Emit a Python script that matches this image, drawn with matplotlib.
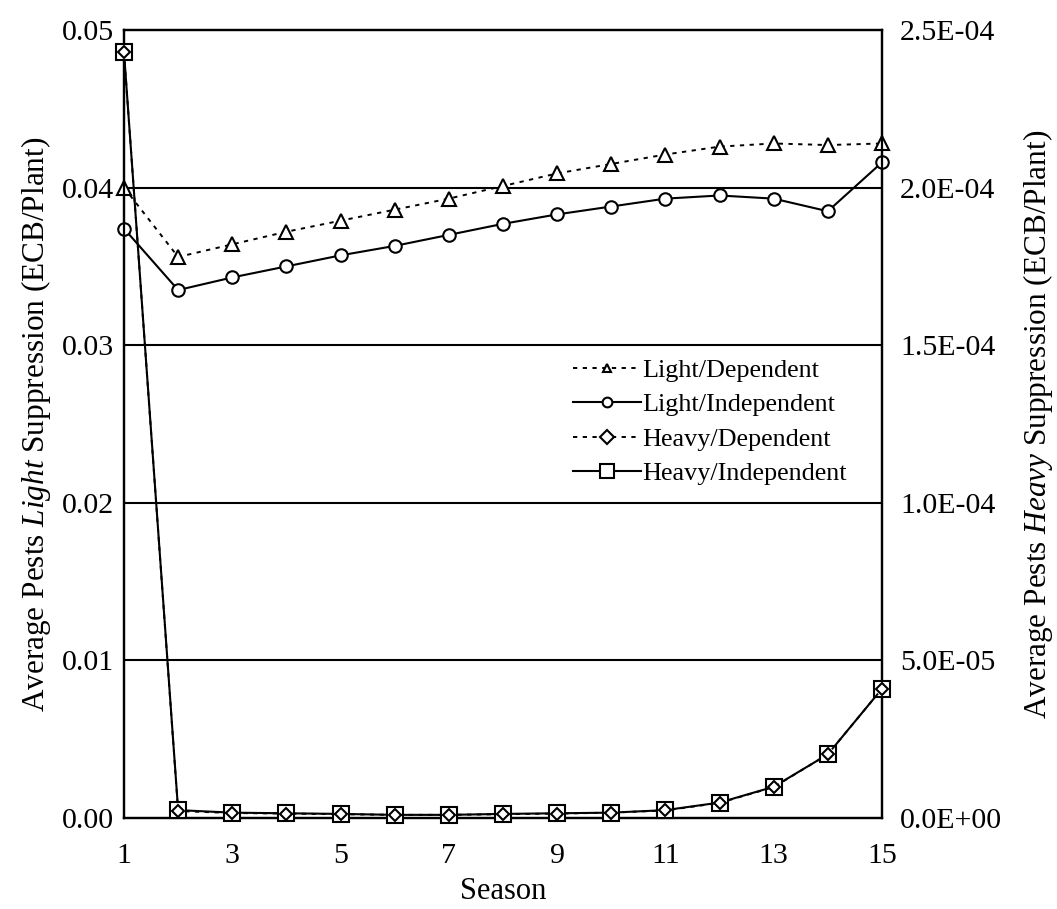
import numpy as np
import matplotlib.pyplot as plt
from matplotlib.ticker import FuncFormatter

plt.rcParams['font.family'] = ['Liberation Serif', 'DejaVu Serif']
plt.rcParams['mathtext.fontset'] = 'custom'
plt.rcParams['mathtext.rm'] = 'Liberation Serif'
plt.rcParams['mathtext.it'] = 'Liberation Serif:italic'

# Data
season = np.arange(1, 16)
light_dep = [0.0400, 0.0356, 0.0364, 0.0372, 0.0379, 0.0386, 0.0393, 0.0401,
             0.0409, 0.0415, 0.0421, 0.0426, 0.0428, 0.0427, 0.0428]
light_ind = [0.0374, 0.0335, 0.0343, 0.0350, 0.0357, 0.0363, 0.0370, 0.0377,
             0.0383, 0.0388, 0.0393, 0.0395, 0.0393, 0.0385, 0.0416]
heavy_dep = [2.43e-4, 2.2e-6, 1.6e-6, 1.4e-6, 1.2e-6, 1.0e-6, 1.0e-6, 1.2e-6,
             1.4e-6, 1.7e-6, 2.4e-6, 4.8e-6, 9.8e-6, 2.02e-5, 4.1e-5]
heavy_ind = [2.43e-4, 2.5e-6, 1.7e-6, 1.5e-6, 1.3e-6, 1.0e-6, 1.0e-6, 1.3e-6,
             1.5e-6, 1.7e-6, 2.5e-6, 4.9e-6, 9.9e-6, 2.02e-5, 4.1e-5]

dotted = (0, (2.2, 2.8))

fig = plt.figure(figsize=(10.57, 9.09), dpi=100)
ax = fig.add_axes([0.1173, 0.1001, 0.7171, 0.8669])
ax2 = ax.twinx()

l1, = ax.plot(season, light_dep, color='black', lw=1.4, ls=dotted, marker='^',
              ms=10, mfc='white', mec='black', mew=1.5, label='Light/Dependent',
              clip_on=False, zorder=3)
l2, = ax.plot(season, light_ind, color='black', lw=1.5, ls='-', marker='o',
              ms=9, mfc='white', mec='black', mew=1.5, label='Light/Independent',
              clip_on=False, zorder=3)
l4, = ax2.plot(season, heavy_ind, color='black', lw=1.5, ls='-', marker='s',
               ms=11, mfc='white', mec='black', mew=1.5, label='Heavy/Independent',
               clip_on=False, zorder=3)
l3, = ax2.plot(season, heavy_dep, color='black', lw=1.4, ls=dotted, marker='D',
               ms=6.5, mfc='white', mec='black', mew=1.5, label='Heavy/Dependent',
               clip_on=False, zorder=3)

ax.set_xlim(1, 15)
ax.set_ylim(0, 0.05)
ax2.set_ylim(0, 2.5e-4)
ax.set_xticks(np.arange(1, 16, 2))
ax.set_yticks(np.arange(0, 0.051, 0.01))
ax.yaxis.set_major_formatter(FuncFormatter(lambda v, p: f'{v:.2f}'))
ax2.set_yticks(np.arange(0, 2.51e-4, 5e-5))
ax2.yaxis.set_major_formatter(FuncFormatter(lambda v, p: f'{v:.1E}'))

for y in [0.01, 0.02, 0.03, 0.04]:
    ax.axhline(y, color='black', lw=1.5, zorder=0)

ax.tick_params(axis='y', length=0, labelsize=21.5, pad=7)
ax.tick_params(axis='x', length=0, labelsize=21.5, pad=18)
ax2.tick_params(axis='y', length=0, labelsize=21.5, pad=13)
for a in (ax, ax2):
    for s in a.spines.values():
        s.set_linewidth(1.6)

ax.set_xlabel('Season', fontsize=22, labelpad=6)
ax.set_ylabel('Average Pests $\\mathit{Light}$ Suppression (ECB/Plant)', fontsize=22.5)
ax.yaxis.set_label_coords(-0.094, 0.5)
ax2.set_ylabel('Average Pests $\\mathit{Heavy}$ Suppression (ECB/Plant)', fontsize=22.5,
               rotation=90)
ax2.yaxis.set_label_coords(1.183, 0.5)

leg = ax.legend([l1, l2, l3, l4], [h.get_label() for h in (l1, l2, l3, l4)],
                loc='center right', bbox_to_anchor=(0.985, 0.5025), frameon=False,
                fontsize=18.8, handlelength=2.6, handletextpad=0.05, labelspacing=0.43)
for h, ms in zip(leg.legend_handles, [6, 7, 7, 10]):
    h.set_markersize(ms)

fig.savefig('out.png', dpi=100)
